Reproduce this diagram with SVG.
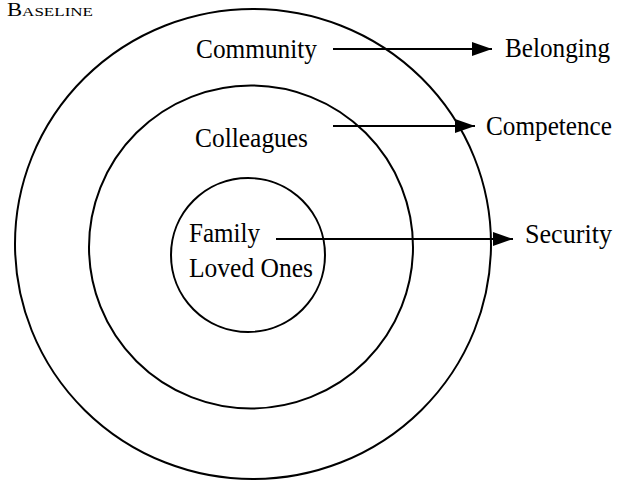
<svg xmlns="http://www.w3.org/2000/svg" width="624" height="481" viewBox="0 0 624 481">
<style>
.ring{fill:none;stroke:#000;stroke-width:2}
.lbl{font-family:"Liberation Serif","Times New Roman",serif;font-size:27px;fill:#000}
.con{stroke:#000;stroke-width:2;fill:none}
</style>
<defs>
<marker id="ah" viewBox="0 0 20 14" refX="20" refY="7" markerWidth="20" markerHeight="14" markerUnits="userSpaceOnUse" orient="auto">
<path d="M0,0 L20,7 L0,14 Z" fill="#000"/>
</marker>
</defs>
<rect width="624" height="481" fill="#fff"/>
<text x="7" y="16" font-family="'Liberation Serif','Times New Roman',serif" fill="#000" textLength="86" lengthAdjust="spacingAndGlyphs"><tspan font-size="18">B</tspan><tspan font-size="13.5">ASELINE</tspan></text>
<g id="community">
<ellipse class="ring" cx="253" cy="244" rx="238" ry="235"/>
<text class="lbl" x="196" y="58" textLength="121" lengthAdjust="spacingAndGlyphs">Community</text>
</g>
<g id="colleagues">
<ellipse class="ring" cx="251" cy="247" rx="162" ry="161.5"/>
<text class="lbl" x="195" y="147" textLength="113" lengthAdjust="spacingAndGlyphs">Colleagues</text>
</g>
<g id="family">
<ellipse class="ring" cx="248" cy="255" rx="77" ry="77"/>
<text class="lbl" x="189" y="242" textLength="71" lengthAdjust="spacingAndGlyphs">Family</text>
<text class="lbl" x="189" y="277" textLength="124" lengthAdjust="spacingAndGlyphs">Loved Ones</text>
</g>
<g id="belonging"><text class="lbl" x="505" y="57" textLength="105" lengthAdjust="spacingAndGlyphs">Belonging</text></g>
<g id="competence"><text class="lbl" x="486" y="135" textLength="126" lengthAdjust="spacingAndGlyphs">Competence</text></g>
<g id="security"><text class="lbl" x="525" y="243" textLength="87" lengthAdjust="spacingAndGlyphs">Security</text></g>
<g id="connectors">
<line class="con" x1="333" y1="49" x2="492" y2="49" marker-end="url(#ah)"/>
<line class="con" x1="333" y1="126" x2="475" y2="126" marker-end="url(#ah)"/>
<line class="con" x1="276" y1="239" x2="513" y2="239" marker-end="url(#ah)"/>
</g>
</svg>
